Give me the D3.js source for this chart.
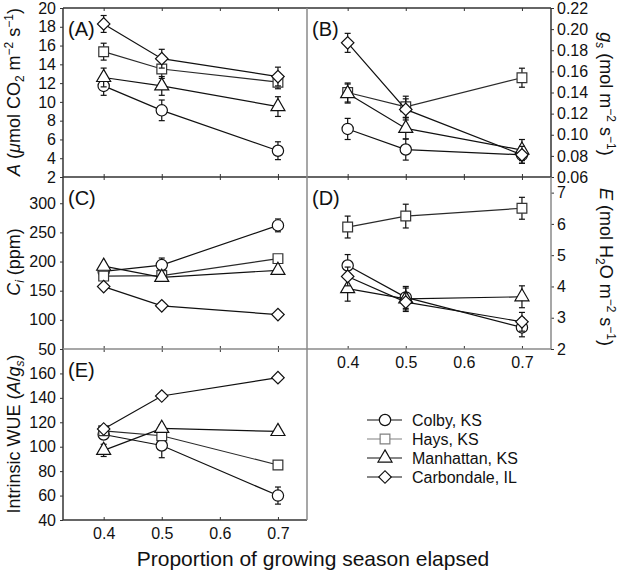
<!DOCTYPE html>
<html><head><meta charset="utf-8">
<script src="https://cdn.jsdelivr.net/npm/d3@7"></script>
<style>body{margin:0;background:#fff} text{font-family:Arial,"Liberation Sans",sans-serif;fill:#111}</style>
</head><body><svg id="c" width="622" height="572"></svg>
<script>
const xValues = [0.4, 0.5, 0.7];
const xTicks = [0.4, 0.5, 0.6, 0.7];
const sites = ["Colby, KS", "Hays, KS", "Manhattan, KS", "Carbondale, IL"];
// order of series: Colby, Hays, Manhattan, Carbondale
const photo = [[11.7, 9.1, 4.8], [15.35, 13.5, 12.1], [12.6, 11.7, 9.5], [18.3, 14.6, 12.7]];
const photoSE = [[1.0, 1.1, 0.95], [0.9, 1.0, 0.7], [1.0, 1.0, 1.05], [0.9, 1.0, 1.0]];
const gs = [[0.1055, 0.086, 0.081], [0.140, 0.1265, 0.154], [0.139, 0.106, 0.0855], [0.187, 0.124, 0.081]];
const gsSE = [[0.01, 0.01, 0.008], [0.009, 0.01, 0.009], [0.009, 0.01, 0.01], [0.009, 0.01, 0.008]];
const ci = [[183, 194, 262], [175, 176, 205], [192, 173, 185], [157, 124, 109]];
const ciSE = [[4, 12, 11], [3, 4, 4], [4, 5, 5], [3, 3, 3]];
const transp = [[4.67, 3.65, 2.69], [5.9, 6.25, 6.5], [3.93, 3.6, 3.67], [4.32, 3.5, 2.87]];
const transpSE = [[0.35, 0.35, 0.3], [0.35, 0.38, 0.35], [0.4, 0.35, 0.35], [0.3, 0.3, 0.3]];
const wue = [[110, 101, 60], [113, 109, 85], [97, 115, 112.5], [114.5, 141.5, 156.5]];
const wueSE = [[4, 10, 7], [2, 2, 2], [5, 3, 2], [2, 2, 2]];
const ticksA = [2, 4, 6, 8, 10, 12, 14, 16, 18, 20];
const ticksB = [0.06, 0.08, 0.10, 0.12, 0.14, 0.16, 0.18, 0.20, 0.22];
const ticksC = [50, 100, 150, 200, 250, 300];
const ticksD = [2, 3, 4, 5, 6, 7];
const ticksE = [40, 60, 80, 100, 120, 140, 160];

const svg = d3.select("#c");
const L = {x0: 63, x1: 307, x2: 551, yA: 8, yAC: 177, yCE: 349, yE: 520};
const xLeft = d3.scaleLinear().domain([0.33, 0.75]).range([L.x0, L.x1]);
const xRight = d3.scaleLinear().domain([0.33, 0.75]).range([L.x1, L.x2]);

const panels = [
  {id: "(A)", x: xLeft, y: d3.scaleLinear().domain([2, 20]).range([L.yAC, L.yA]), data: photo, se: photoSE, ticks: ticksA, side: "left", fmt: d3.format("d"), xlab: false},
  {id: "(B)", x: xRight, y: d3.scaleLinear().domain([0.06, 0.22]).range([L.yAC, L.yA]), data: gs, se: gsSE, ticks: ticksB, side: "right", fmt: d3.format(".2f"), xlab: false},
  {id: "(C)", x: xLeft, y: d3.scaleLinear().domain([50, 345]).range([L.yCE, L.yAC]), data: ci, se: ciSE, ticks: ticksC, side: "left", fmt: d3.format("d"), xlab: false},
  {id: "(D)", x: xRight, y: d3.scaleLinear().domain([2, 7.5]).range([L.yCE, L.yAC]), data: transp, se: transpSE, ticks: ticksD, side: "right", fmt: d3.format("d"), xlab: true},
  {id: "(E)", x: xLeft, y: d3.scaleLinear().domain([40, 180]).range([L.yE, L.yCE]), data: wue, se: wueSE, ticks: ticksE, side: "left", fmt: d3.format("d"), xlab: true}
];

const symType = [d3.symbolCircle, d3.symbolSquare, d3.symbolTriangle, d3.symbolSquare];
const symSize = [100, 95, 85, 78];
const symRot = [0, 0, 0, 45];
const lineCol = ["#111", "#2a2a2a", "#111", "#111"];
const markCol = ["#111", "#333", "#111", "#111"];

panels.forEach(p => {
  const [xa, xb] = p.x.range();
  const [yb, ya] = p.y.range();
  const ax = p.side === "left"
    ? d3.axisLeft(p.y).tickValues(p.ticks).tickFormat(p.fmt).tickSize(3).tickPadding(4)
    : d3.axisRight(p.y).tickValues(p.ticks).tickFormat(p.fmt).tickSize(3).tickPadding(3);
  const g = svg.append("g").attr("transform", `translate(${p.side === "left" ? xa : xb},0)`).call(ax);
  g.select(".domain").remove();
  g.selectAll("line").attr("stroke", "#333");
  g.selectAll("text").style("font-size", "16px").attr("fill", "#111");
  const gt = svg.append("g").attr("transform", `translate(0,${ya})`)
    .call(d3.axisTop(p.x).tickValues(xTicks).tickSize(-3).tickFormat(""));
  gt.select(".domain").remove();
  gt.selectAll("line").attr("stroke", "#333");
  const gb = svg.append("g").attr("transform", `translate(0,${yb})`)
    .call(d3.axisBottom(p.x).tickValues(xTicks).tickSize(-3).tickPadding(8).tickFormat(p.xlab ? d3.format(".1f") : ""));
  gb.select(".domain").remove();
  gb.selectAll("line").attr("stroke", "#333");
  gb.selectAll("text").style("font-size", "16px").attr("fill", "#111");

  p.data.forEach((vals, s) => {
    const pts = vals.map((v, i) => ({x: xValues[i], y: v, e: p.se[s][i]}));
    const sg = svg.append("g");
    sg.append("path").datum(pts)
      .attr("d", d3.line().x(d => p.x(d.x)).y(d => p.y(d.y)))
      .attr("fill", "none").attr("stroke", lineCol[s]).attr("stroke-width", 1.2);
    pts.forEach(d => {
      const cx = p.x(d.x), t = p.y(d.y + d.e), b = p.y(d.y - d.e);
      sg.append("line").attr("x1", cx).attr("x2", cx).attr("y1", t).attr("y2", b).attr("stroke", "#111").attr("stroke-width", 1.2);
      [t, b].forEach(yy => sg.append("line").attr("x1", cx - 3).attr("x2", cx + 3).attr("y1", yy).attr("y2", yy).attr("stroke", "#111").attr("stroke-width", 1.2));
    });
    sg.selectAll("path.m").data(pts).enter().append("path").attr("class", "m")
      .attr("d", d3.symbol().type(symType[s]).size(symSize[s]))
      .attr("transform", d => `translate(${p.x(d.x)},${p.y(d.y)}) rotate(${symRot[s]})`)
      .attr("fill", "#fff").attr("stroke", markCol[s]).attr("stroke-width", 1.2);
  });
  svg.append("text").attr("x", xa + 5).attr("y", ya + 28).style("font-size", "20px").text(p.id);
});

const dark = "#333", grey = "#8a8a8a";
const seg = (x1, y1, x2, y2, c) => svg.append("line").attr("x1", x1).attr("y1", y1).attr("x2", x2).attr("y2", y2).attr("stroke", c).attr("stroke-width", 1.5);
seg(L.x0, L.yA, L.x2, L.yA, dark);
seg(L.x0, L.yA, L.x0, L.yE, dark);
seg(L.x0, L.yE, L.x1, L.yE, dark);
seg(L.x0, L.yAC, L.x2, L.yAC, dark);
seg(L.x2, L.yA, L.x2, L.yAC, dark);
seg(L.x2, L.yAC, L.x2, L.yCE, grey);
seg(L.x1, L.yA, L.x1, L.yE, grey);
seg(L.x0, L.yCE, L.x2, L.yCE, grey);

function rotLabel(x, y, ang, parts) {
  const t = svg.append("text").attr("transform", `translate(${x},${y}) rotate(${ang})`)
    .attr("text-anchor", "middle").style("font-size", "18px");
  parts.forEach(pt => {
    const ts = t.append("tspan").text(pt.t);
    if (pt.i) ts.style("font-style", "italic");
    if (pt.sub) ts.style("font-size", "12px").attr("dy", 4);
    if (pt.sup) ts.style("font-size", "12px").attr("dy", -7);
    if (pt.back) ts.attr("dy", pt.back);
  });
}
rotLabel(20, 92, -90, [{t: "A", i: 1}, {t: " ("}, {t: "μ", i: 1}, {t: "mol CO"}, {t: "2", sub: 1}, {t: " m", back: -4}, {t: "−2", sup: 1}, {t: " s", back: 7}, {t: "−1", sup: 1}, {t: ")", back: 7}]);
rotLabel(20, 262, -90, [{t: "C", i: 1}, {t: "i", i: 1, sub: 1}, {t: " (ppm)", back: -4}]);
rotLabel(20, 434, -90, [{t: "Intrinsic WUE ("}, {t: "A", i: 1}, {t: "/"}, {t: "g", i: 1}, {t: "s", i: 1, sub: 1}, {t: ")", back: -4}]);
rotLabel(600, 94, 90, [{t: "g", i: 1}, {t: "s", i: 1, sub: 1}, {t: " (mol m", back: -4}, {t: "−2", sup: 1}, {t: " s", back: 7}, {t: "−1", sup: 1}, {t: ")", back: 7}]);
rotLabel(600, 267, 90, [{t: "E", i: 1}, {t: " (mol H"}, {t: "2", sub: 1}, {t: "O m", back: -4}, {t: "−2", sup: 1}, {t: " s", back: 7}, {t: "−1", sup: 1}, {t: ")", back: 7}]);

svg.append("text").attr("x", 313).attr("y", 566).attr("text-anchor", "middle").style("font-size", "21px")
  .text("Proportion of growing season elapsed");

const lg = svg.append("g");
sites.forEach((s, i) => {
  const yy = 420 + i * 19;
  lg.append("line").attr("x1", 367).attr("x2", 402).attr("y1", yy).attr("y2", yy).attr("stroke", i === 1 ? "#808080" : "#111").attr("stroke-width", 1.2);
  lg.append("path").attr("d", d3.symbol().type(symType[i]).size(symSize[i]))
    .attr("transform", `translate(385,${yy}) rotate(${symRot[i]})`)
    .attr("fill", "#fff").attr("stroke", i === 1 ? "#808080" : "#111").attr("stroke-width", 1.2);
  lg.append("text").attr("x", 412).attr("y", yy + 6).style("font-size", "16px").text(s);
});
</script></body></html>
